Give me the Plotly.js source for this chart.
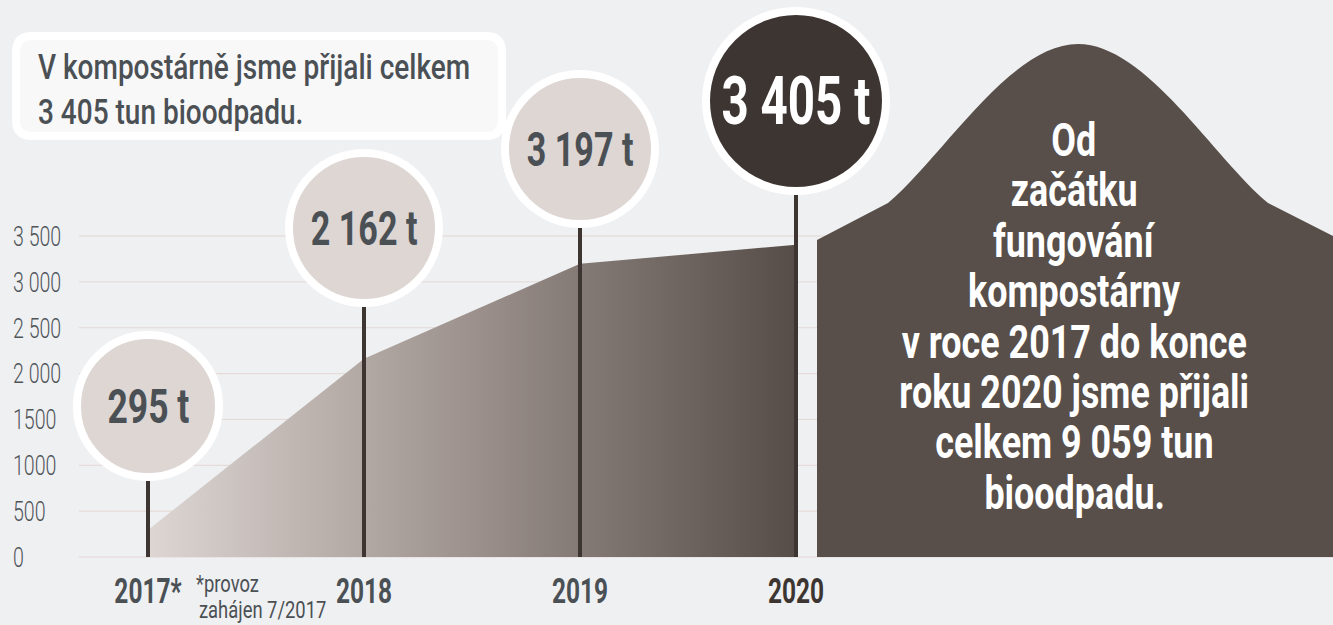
<!DOCTYPE html>
<html>
<head>
<meta charset="utf-8">
<script src="https://cdn.plot.ly/plotly-3.0.1.min.js"></script>
<style>
  html, body { margin: 0; padding: 0; background: #eff0f2; }
  #chart { width: 1333px; height: 625px; }
</style>
</head>
<body>
<div id="chart"></div>
<script>
// Bioodpad přijatý v kompostárně (tuny za rok)
const years = [2017, 2018, 2019, 2020];
const tonnes = [295, 2162, 3197, 3405];
const yearLabels = ['2017*', '2018', '2019', '<span style="color:#3d3531">2020</span>'];
const bubbleLabels = ['295 t', '2 162 t', '3 197 t', '3 405 t'];
const yTickVals = [0, 500, 1000, 1500, 2000, 2500, 3000, 3500];
const yTickText = ['0', '500', '1000', '1500', '2 000', '2 500', '3 000', '3 500'];
const summaryLines = ['Od', 'začátku', 'fungování', 'kompostárny', 'v roce 2017 do konce',
  'roku 2020 jsme přijali', 'celkem 9 059 tun', 'bioodpadu.'];

// Presentation settings
const W = 1333, H = 625;
const ML = 10;                       // left margin (px)
const BASE = 557;                    // pixel row of the zero line
const PX_PER_UNIT = 0.0917;          // vertical scale (px per tonne)
const PX_PER_YEAR = 216;
const FIRST_YEAR_PX = 148;
const FONT = "Roboto, 'Liberation Sans', sans-serif";
const CONDENSE = 0.7;                // horizontal squeeze for axis labels
const bubbleLift = [151, 329, 408, 456];   // bubble centre above the zero line (px)
const bubbleRadius = [75, 79, 79, 94];
const bubbleFill = ['#ddd6d3', '#ddd6d3', '#ddd6d3', '#3d3531'];
const bubbleText = ['#4b5055', '#4b5055', '#4b5055', '#ffffff'];
const bubbleSize = [48, 48, 48, 67];
const bubbleSqueeze = [0.74, 0.71, 0.71, 0.71];

const xMin = years[0] - (FIRST_YEAR_PX - ML) / PX_PER_YEAR;
const xMax = xMin + (W - ML) / PX_PER_YEAR;
const yMin = -(H - BASE) / PX_PER_UNIT;
const yMax = BASE / PX_PER_UNIT;

// pixel -> paper helpers for decorative shapes
const px = x => (x - ML) / (W - ML);
const py = y => (H - y) / H;
const P = (x, y) => px(x).toFixed(5) + ',' + py(y).toFixed(5);

function roundRect(x0, y0, x1, y1, r) {
  return 'M' + P(x0 + r, y0) + ' L' + P(x1 - r, y0) + ' Q' + P(x1, y0) + ' ' + P(x1, y0 + r) +
    ' L' + P(x1, y1 - r) + ' Q' + P(x1, y1) + ' ' + P(x1 - r, y1) +
    ' L' + P(x0 + r, y1) + ' Q' + P(x0, y1) + ' ' + P(x0, y1 - r) +
    ' L' + P(x0, y0 + r) + ' Q' + P(x0, y0) + ' ' + P(x0 + r, y0) + ' Z';
}

const mountainPath = 'M' + P(817, BASE) + ' L' + P(817, 240) + ' L' + P(888, 203) +
  ' C' + P(942, 158) + ' ' + P(1010, 44) + ' ' + P(1078, 44) +
  ' C' + P(1146, 44) + ' ' + P(1214, 158) + ' ' + P(1268, 203) +
  ' L' + P(1333, 236) + ' L' + P(1333, BASE) + ' Z';

const area = {
  x: years,
  y: tonnes,
  type: 'scatter',
  mode: 'none',
  fill: 'tozeroy',
  fillgradient: {
    type: 'horizontal',
    colorscale: [[0, '#ddd6d3'], [0.5, '#9c918c'], [1, '#564d48']]
  },
  hoverinfo: 'skip',
  showlegend: false
};

const shapes = [];

// horizontal grid
yTickVals.forEach(v => shapes.push({
  type: 'line', xref: 'paper', x0: px(79), x1: 1, yref: 'y', y0: v, y1: v,
  line: { color: '#e3d8d4', width: 1 }, layer: 'below'
}));

// summary box
shapes.push({
  type: 'path', xref: 'paper', yref: 'paper', path: roundRect(16, 36, 502, 136, 16),
  fillcolor: '#f8f8f9', line: { color: '#ffffff', width: 8 }, layer: 'above'
});

// stems
years.forEach((yr, i) => shapes.push({
  type: 'line', xref: 'x', x0: yr, x1: yr,
  yref: 'y', ysizemode: 'pixel', yanchor: 0, y0: 0, y1: bubbleLift[i],
  line: { color: '#3d3531', width: 4 }, layer: 'above'
}));

// bubbles
years.forEach((yr, i) => {
  const r = bubbleRadius[i] - 4;
  shapes.push({
    type: 'circle', xref: 'x', xsizemode: 'pixel', xanchor: yr, x0: -r, x1: r,
    yref: 'y', ysizemode: 'pixel', yanchor: 0, y0: bubbleLift[i] - r, y1: bubbleLift[i] + r,
    fillcolor: bubbleFill[i], line: { color: '#ffffff', width: 8 }, layer: 'above'
  });
});

// total panel
shapes.push({
  type: 'path', xref: 'paper', yref: 'paper', path: mountainPath,
  fillcolor: '#584f4a', line: { width: 0 }, layer: 'above'
});

const annotations = [];
const squeeze = [];   // horizontal squeeze for each annotation, same order

years.forEach((yr, i) => {
  annotations.push({
    x: yr, y: 0, xref: 'x', yref: 'y', yshift: bubbleLift[i],
    text: bubbleLabels[i], showarrow: false, xanchor: 'center', yanchor: 'middle',
    font: { family: FONT, size: bubbleSize[i], color: bubbleText[i], weight: 'bold' }
  });
  squeeze.push(bubbleSqueeze[i]);
});

annotations.push({
  xref: 'paper', yref: 'paper', x: px(36), y: py(90), xanchor: 'left', yanchor: 'middle', align: 'left',
  showarrow: false,
  text: 'V kompostárně jsme přijali celkem<br>3 405 tun bioodpadu.',
  font: { family: FONT, size: 35, color: '#4b5055', weight: 500 }
});
squeeze.push(0.8);

summaryLines.forEach((line, k) => {
  annotations.push({
    xref: 'paper', yref: 'paper', x: px(1074), y: py(140 + 50.4 * k), xanchor: 'center', yanchor: 'middle',
    showarrow: false, text: line,
    font: { family: FONT, size: 46, color: '#ffffff', weight: 'bold' }
  });
  squeeze.push(0.78);
});

annotations.push({
  xref: 'paper', yref: 'paper', x: px(194), y: py(584), xanchor: 'left', yanchor: 'middle', align: 'left',
  showarrow: false, text: '*provoz',
  font: { family: FONT, size: 23, color: '#4b5055' }
});
squeeze.push(0.8);
annotations.push({
  xref: 'paper', yref: 'paper', x: px(197), y: py(610), xanchor: 'left', yanchor: 'middle', align: 'left',
  showarrow: false, text: 'zahájen 7/2017',
  font: { family: FONT, size: 23, color: '#4b5055' }
});
squeeze.push(0.8);

const layout = {
  width: W, height: H,
  margin: { l: ML, r: 0, t: 0, b: 0, pad: 0 },
  paper_bgcolor: '#eff0f2',
  plot_bgcolor: 'rgba(0,0,0,0)',
  showlegend: false,
  xaxis: {
    range: [xMin, xMax],
    tickvals: years, ticktext: yearLabels,
    tickfont: { family: FONT, size: 35, color: '#4b5055', weight: 'bold' },
    ticklabelstandoff: 10,
    showgrid: false, zeroline: false, showline: false, ticks: '',
    anchor: 'free', position: (H - BASE) / H,
    fixedrange: true
  },
  yaxis: {
    range: [yMin, yMax],
    tickvals: yTickVals, ticktext: yTickText,
    tickfont: { family: FONT, size: 28, color: '#50555a', weight: 300 },
    ticklabelposition: 'inside',
    showgrid: false, zeroline: false, showline: false, ticks: '',
    fixedrange: true
  },
  shapes: shapes,
  annotations: annotations
};

// Narrow a text element horizontally about its anchor point, so the type
// reads as a condensed face; companions (e.g. a label's box) follow along.
function squeezeX(textEl, factor, companions) {
  const bb = textEl.getBBox();
  if (!bb.width) return;
  const anchor = textEl.getAttribute('text-anchor') || getComputedStyle(textEl).textAnchor;
  const cx = anchor === 'start' ? bb.x : anchor === 'end' ? bb.x + bb.width : bb.x + bb.width / 2;
  const extra = ' translate(' + cx + ',0) scale(' + factor + ',1) translate(' + (-cx) + ',0)';
  [textEl].concat(companions || []).forEach(el => {
    el.setAttribute('transform', (el.getAttribute('transform') || '') + extra);
  });
}

function condenseText(gd) {
  gd.querySelectorAll('g.annotation').forEach(g => {
    const t = g.querySelector('text.annotation-text');
    const bg = g.querySelector('rect.bg');
    if (t) squeezeX(t, squeeze[+g.getAttribute('data-index')], bg ? [bg] : []);
  });
  gd.querySelectorAll('g.xtick text, g.ytick text').forEach(t => squeezeX(t, CONDENSE));
}

Plotly.newPlot('chart', [area], layout, { displayModeBar: false, staticPlot: true })
  .then(condenseText);
</script>
</body>
</html>
